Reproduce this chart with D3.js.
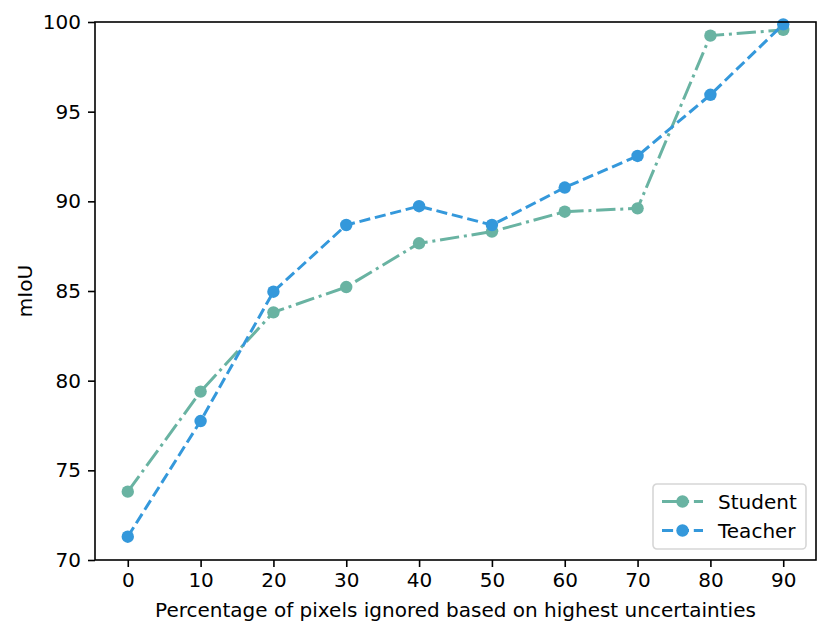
<!DOCTYPE html>
<html>
<head>
<meta charset="utf-8">
<script src="https://cdn.jsdelivr.net/npm/d3@7/dist/d3.min.js"></script>
<style>
  html, body { margin: 0; padding: 0; background: #fff; }
  svg text { font-family: "DejaVu Sans", sans-serif; fill: #000; }
</style>
</head>
<body>
<div id="chart"></div>
<script>
// Values
const percentages = [0, 10, 20, 30, 40, 50, 60, 70, 80, 90];
const studentScores = [73.81, 79.39, 83.81, 85.22, 87.66, 88.31, 89.42, 89.61, 99.24, 99.56];
const teacherScores = [71.3, 77.75, 84.96, 88.68, 89.73, 88.68, 90.77, 92.53, 95.94, 99.87];
const yTicks = [70, 75, 80, 85, 90, 95, 100];

const SERIES = [
  { name: 'Student', values: studentScores, colour: '#69b3a2', dash: '19.3,4.8,3,4.8' },
  { name: 'Teacher', values: teacherScores, colour: '#3498db', dash: '11.1,4.8' }
];

const width = 831;
const height = 636;
const margin = { top: 22, right: 15, bottom: 76, left: 95 };
const chartWidth = width - margin.left - margin.right;
const chartHeight = height - margin.top - margin.bottom;
const fontSize = 20;

const x = d3.scaleLinear().domain([-4.5, 94.5]).range([0, chartWidth]);
const y = d3.scaleLinear().domain([70, 100]).range([chartHeight, 0]);

const svg = d3
  .select('#chart')
  .append('svg')
  .attr('width', width)
  .attr('height', height);

const g = svg.append('g').attr('transform', `translate(${margin.left},${margin.top})`);

// axes
g.append('g')
  .attr('transform', `translate(0,${chartHeight})`)
  .call(d3.axisBottom(x).tickValues(percentages).tickSize(7).tickPadding(6).tickFormat(d3.format('d')))
  .call((a) => a.select('.domain').remove())
  .call((a) => a.selectAll('line').attr('stroke', '#000').attr('stroke-width', 1.6))
  .call((a) => a.selectAll('text').attr('font-size', fontSize).attr('font-family', 'DejaVu Sans'));

g.append('g')
  .call(d3.axisLeft(y).tickValues(yTicks).tickSize(7).tickPadding(7).tickFormat(d3.format('d')))
  .call((a) => a.select('.domain').remove())
  .call((a) => a.selectAll('line').attr('stroke', '#000').attr('stroke-width', 1.6))
  .call((a) => a.selectAll('text').attr('font-size', fontSize).attr('font-family', 'DejaVu Sans'));

// series
SERIES.forEach((s) => {
  const points = percentages.map((p, i) => ({ p, v: s.values[i] }));
  g.append('path')
    .datum(points)
    .attr('fill', 'none')
    .attr('stroke', s.colour)
    .attr('stroke-width', 3)
    .attr('stroke-dasharray', s.dash)
    .attr('d', d3.line().x((d) => x(d.p)).y((d) => y(d.v)));
  g.selectAll(null)
    .data(points)
    .join('circle')
    .attr('cx', (d) => x(d.p))
    .attr('cy', (d) => y(d.v))
    .attr('r', 6.2)
    .attr('fill', s.colour);
});

// frame
g.append('rect')
  .attr('width', chartWidth)
  .attr('height', chartHeight)
  .attr('fill', 'none')
  .attr('stroke', '#000')
  .attr('stroke-width', 1.6);

// axis labels
g.append('text')
  .attr('x', chartWidth / 2)
  .attr('y', 595)
  .attr('text-anchor', 'middle')
  .attr('font-size', fontSize)
  .text('Percentage of pixels ignored based on highest uncertainties');

g.append('text')
  .attr('transform', `translate(${32 - margin.left},${chartHeight / 2}) rotate(-90)`)
  .attr('text-anchor', 'middle')
  .attr('font-size', fontSize)
  .text('mIoU');

// legend, lower right
const legend = svg.append('g').attr('transform', 'translate(653,484)');
legend.append('rect')
  .attr('width', 153)
  .attr('height', 65)
  .attr('rx', 4)
  .attr('fill', '#fff')
  .attr('fill-opacity', 0.8)
  .attr('stroke', '#d6d6d6')
  .attr('stroke-width', 1.6);

SERIES.forEach((s, i) => {
  const item = legend.append('g').attr('transform', `translate(0,${17.5 + i * 29})`);
  item.append('line')
    .attr('x1', 9)
    .attr('x2', 50)
    .attr('stroke', s.colour)
    .attr('stroke-width', 3)
    .attr('stroke-dasharray', s.dash);
  item.append('circle').attr('cx', 29.5).attr('r', 6.2).attr('fill', s.colour);
  item.append('text')
    .attr('x', 65)
    .attr('dy', '0.36em')
    .attr('font-size', fontSize)
    .text(s.name);
});
</script>
</body>
</html>
